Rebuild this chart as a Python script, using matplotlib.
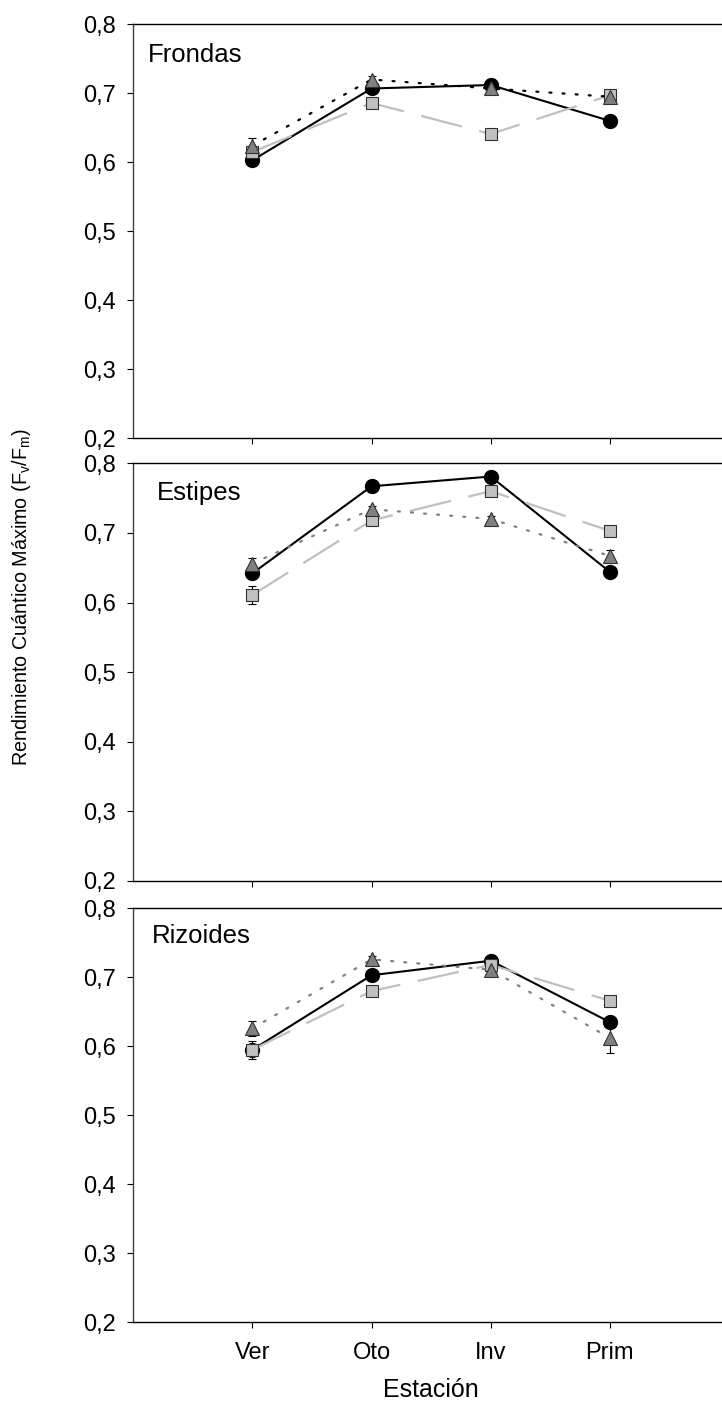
import matplotlib
matplotlib.use("Agg")
import matplotlib.pyplot as plt
from matplotlib.ticker import FuncFormatter

plt.rcParams['font.family'] = ['Liberation Sans', 'DejaVu Sans']

# Seasons (x categories)
seasons = ["Ver", "Oto", "Inv", "Prim"]
x_pos = [1, 2, 3, 4]

# Fv/Fm means and standard errors per tissue; three treatments per panel
panel_names = ["Frondas", "Estipes", "Rizoides"]

frondas_circle = [0.603, 0.707, 0.712, 0.660]
frondas_square = [0.615, 0.686, 0.641, 0.697]
frondas_triangle = [0.624, 0.720, 0.707, 0.695]
frondas_circle_se = [0.005, 0.005, 0.004, 0.004]
frondas_square_se = [0.008, 0.004, 0.004, 0.004]
frondas_triangle_se = [0.011, 0.005, 0.004, 0.004]

estipes_circle = [0.642, 0.767, 0.781, 0.644]
estipes_square = [0.611, 0.718, 0.760, 0.703]
estipes_triangle = [0.656, 0.734, 0.720, 0.667]
estipes_circle_se = [0.006, 0.004, 0.004, 0.004]
estipes_square_se = [0.013, 0.004, 0.004, 0.004]
estipes_triangle_se = [0.008, 0.005, 0.004, 0.008]

rizoides_circle = [0.595, 0.703, 0.724, 0.635]
rizoides_square = [0.595, 0.680, 0.718, 0.666]
rizoides_triangle = [0.626, 0.726, 0.711, 0.612]
rizoides_circle_se = [0.006, 0.004, 0.004, 0.004]
rizoides_square_se = [0.013, 0.004, 0.004, 0.004]
rizoides_triangle_se = [0.011, 0.005, 0.004, 0.022]

panels = [
    (frondas_circle, frondas_circle_se, frondas_square, frondas_square_se,
     frondas_triangle, frondas_triangle_se),
    (estipes_circle, estipes_circle_se, estipes_square, estipes_square_se,
     estipes_triangle, estipes_triangle_se),
    (rizoides_circle, rizoides_circle_se, rizoides_square, rizoides_square_se,
     rizoides_triangle, rizoides_triangle_se),
]

y_ticks = [0.2, 0.3, 0.4, 0.5, 0.6, 0.7, 0.8]

W, H = 722, 1406
fig = plt.figure(figsize=(W / 100, H / 100), dpi=100)

# axes boxes in pixels: (top, bottom)
left_px, right_px = 133.3, 729.0
boxes = [(24.3, 438.3), (463.3, 881.0), (908.3, 1322.3)]
title_pos = [(0.025, 0.910), (0.039, 0.912), (0.032, 0.916)]
dot_colors = ["#000000", "#808080", "#808080"]

comma = FuncFormatter(lambda v, p: f"{v:.1f}".replace(".", ","))

for i, (top, bot) in enumerate(boxes):
    ax = fig.add_axes([left_px / W, 1 - bot / H,
                       (right_px - left_px) / W, (bot - top) / H])
    c, c_se, s, s_se, t, t_se = panels[i]

    ebkw = dict(fmt="none", ecolor="black", elinewidth=0.8, capsize=3,
                capthick=0.8, zorder=2)
    ax.errorbar(x_pos, c, yerr=c_se, **ebkw)
    ax.errorbar(x_pos, s, yerr=s_se, **ebkw)
    ax.errorbar(x_pos, t, yerr=t_se, **ebkw)

    ax.plot(x_pos, c, color="black", lw=1.5, marker="o", markersize=10,
            markerfacecolor="black", markeredgecolor="black", zorder=3)
    ax.plot(x_pos, s, color="#c0c0c0", lw=1.6, dashes=(19, 8),
            marker="s", markersize=9, markerfacecolor="#c0c0c0",
            markeredgecolor="#303030", markeredgewidth=0.8, zorder=4)
    ax.plot(x_pos, t, color=dot_colors[i], lw=1.6, dashes=(0.9, 5.0),
            dash_capstyle="round", marker="^", markersize=10,
            markerfacecolor="#808080", markeredgecolor="#303030",
            markeredgewidth=0.8, zorder=5)

    ax.set_xlim(0, 5)
    ax.set_ylim(0.2, 0.8)
    ax.set_xticks(x_pos)
    ax.set_yticks(y_ticks)
    ax.yaxis.set_major_formatter(comma)
    ax.tick_params(axis="both", direction="out", length=4, width=0.8,
                   color="black")
    ax.tick_params(axis="y", labelsize=17, pad=8.5)
    if i == 2:
        ax.set_xticklabels(seasons, fontsize=17)
        ax.tick_params(axis="x", pad=10)
    else:
        ax.set_xticklabels([])
    for side in ("left", "top", "bottom"):
        ax.spines[side].set_linewidth(1.0)
        ax.spines[side].set_color("black")
    ax.spines["left"].set_color("#404040")
    ax.spines["right"].set_visible(False)

    ax.text(title_pos[i][0], title_pos[i][1], panel_names[i],
            transform=ax.transAxes, fontsize=18.5, va="baseline", ha="left")

fig.text(22 / W, 1 - 597 / H,
         r"Rendimiento Cuántico Máximo (F$_\mathregular{v}$/F$_\mathregular{m}$)",
         rotation=90, ha="center", va="center", fontsize=14.2)
fig.text(431 / W, 1 - 1390 / H, "Estación", ha="center", va="center",
         fontsize=18)

fig.savefig("out.png", dpi=100)
